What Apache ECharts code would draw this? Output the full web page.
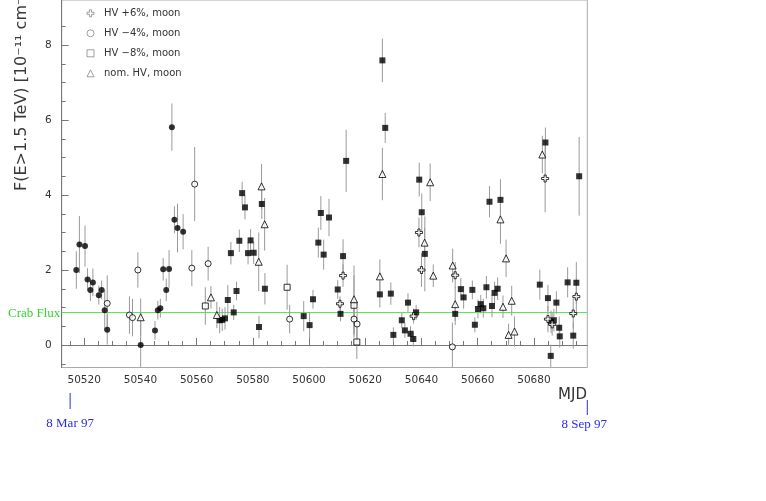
<!DOCTYPE html>
<html>
<head>
<meta charset="utf-8">
<script src="https://cdn.jsdelivr.net/npm/echarts@6/dist/echarts.min.js"></script>
<style>
  html, body { margin: 0; padding: 0; background: #fff; }
  #chart { width: 766px; height: 501px; }
</style>
</head>
<body>
<div id="chart"></div>
<script>
// filled circles
const dotMjd  = [50517.2, 50518.3, 50520.3, 50521.2, 50522.2, 50523.1, 50525.2, 50526.2, 50527.3, 50528.2,
                 50540.1, 50545.2, 50546.2, 50547.1, 50548.1, 50549.2, 50550.2, 50551.2, 50552.1, 50553.2, 50555.2];
const dotFlux = [2.00, 2.68, 2.64, 1.75, 1.47, 1.67, 1.33, 1.47, 0.93, 0.41,
                 0.00, 0.39, 0.93, 0.98, 2.02, 1.47, 2.03, 5.81, 3.34, 3.12, 3.02];
const dotErr  = [0.50, 0.76, 0.55, 0.30, 0.30, 0.37, 0.25, 0.25, 0.54, 0.40,
                 0.70, 0.25, 0.25, 0.25, 0.30, 0.30, 0.50, 0.63, 0.36, 0.65, 0.47];

// filled squares
const boxMjd  = [50568.2, 50569.1, 50570.1, 50571.1, 50572.2, 50573.2, 50574.2, 50575.2, 50576.2, 50577.2,
                 50578.3, 50579.2, 50580.3, 50582.2, 50583.2, 50584.3, 50598.1, 50600.2, 50601.4, 50603.3,
                 50604.2, 50605.2, 50607.1, 50610.2, 50611.2, 50612.1, 50613.2, 50625.2, 50626.1, 50627.1,
                 50629.1, 50630.0, 50633.0, 50634.1, 50635.2, 50636.1, 50637.1, 50638.1, 50639.2, 50640.1,
                 50641.2, 50652.0, 50654.0, 50655.0, 50658.1, 50659.0, 50660.1, 50661.1, 50662.0, 50663.1,
                 50664.2, 50665.1, 50666.0, 50667.1, 50668.1, 50682.1, 50684.1, 50685.0, 50686.0, 50686.1,
                 50687.1, 50688.0, 50689.0, 50689.2, 50692.0, 50694.0, 50695.1, 50696.1];
const boxFlux = [0.66, 0.67, 0.71, 1.20, 2.45, 0.87, 1.44, 2.78, 4.05, 3.67,
                 2.45, 2.79, 2.46, 0.48, 3.76, 1.50, 0.77, 0.53, 1.22, 2.73,
                 3.52, 2.41, 3.40, 1.48, 0.83, 2.37, 4.91, 1.35, 7.59, 5.79,
                 1.37, 0.27, 0.66, 0.39, 1.13, 0.30, 0.16, 0.87, 4.41, 3.54,
                 2.43, 0.83, 1.49, 1.27, 1.47, 0.54, 0.96, 1.09, 0.98, 1.54,
                 3.82, 1.04, 1.39, 1.50, 3.87, 1.61, 5.40, 1.25, -0.29, 0.62,
                 0.66, 1.13, 0.46, 0.23, 1.67, 0.25, 1.66, 4.50];
const boxErr  = [0.35, 0.30, 0.30, 0.40, 0.30, 0.20, 0.25, 0.30, 0.30, 0.32,
                 0.30, 0.30, 0.30, 0.30, 0.40, 0.42, 0.40, 0.35, 0.25, 0.40,
                 0.45, 0.40, 0.50, 0.25, 0.20, 0.45, 0.83, 0.35, 0.58, 0.40,
                 0.30, 0.20, 0.20, 0.20, 0.25, 0.20, 0.20, 0.20, 0.45, 0.50,
                 1.00, 0.30, 0.30, 0.30, 0.25, 0.20, 0.25, 0.25, 0.25, 0.30,
                 0.42, 0.30, 0.30, 0.30, 0.55, 0.40, 0.40, 0.35, 0.30, 0.30,
                 0.30, 0.30, 0.30, 0.30, 0.40, 0.35, 0.55, 1.05];

// HV +6%, moon (open cross)
const crossMjd  = [50611.0, 50612.1, 50637.2, 50639.1, 50640.0, 50652.0, 50684.0, 50685.0, 50686.5, 50694.0, 50695.1];
const crossFlux = [1.10, 1.85, 0.77, 3.00, 2.00, 1.86, 4.44, 0.69, 0.55, 0.84, 1.29];
const crossErr  = [0.20, 0.30, 0.20, 0.40, 0.45, 0.35, 0.90, 0.35, 0.30, 0.40, 0.50];

// HV -4%, moon (open circle)
const ringMjd  = [50528.2, 50536.1, 50537.2, 50539.1, 50558.3, 50559.3, 50564.1, 50593.1, 50616.0, 50617.1, 50651.0];
const ringFlux = [1.11, 0.80, 0.73, 2.00, 2.05, 4.29, 2.17, 0.69, 0.69, 0.56, -0.05];
const ringErr  = [0.75, 0.50, 0.50, 0.47, 0.48, 0.99, 0.45, 0.38, 0.50, 0.40, 0.65];

// HV -8%, moon (open square)
const sqMjd  = [50563.1, 50592.2, 50616.0, 50617.0];
const sqFlux = [1.04, 1.54, 1.06, 0.08];
const sqErr  = [0.50, 0.60, 0.80, 0.45];

// nom. HV, moon (open triangle)
const triMjd  = [50540.1, 50565.1, 50567.2, 50582.1, 50583.1, 50584.2, 50616.0, 50625.2, 50626.1, 50641.1,
                 50643.1, 50644.2, 50651.1, 50652.0, 50668.1, 50669.0, 50670.1, 50671.0, 50672.1, 50673.1, 50683.0];
const triFlux = [0.74, 1.27, 0.80, 2.22, 4.23, 3.22, 1.22, 1.83, 4.56, 2.73,
                 4.34, 1.85, 2.12, 1.09, 3.35, 1.02, 2.31, 0.27, 1.18, 0.36, 5.08];
const triErr  = [0.50, 0.30, 0.35, 0.78, 0.60, 0.70, 0.90, 0.45, 0.70, 0.40,
                 0.50, 0.30, 0.45, 0.45, 0.65, 0.30, 0.50, 0.30, 0.40, 0.40, 0.50];

const xMajor = [50520, 50540, 50560, 50580, 50600, 50620, 50640, 50660, 50680];
const yMajor = [0, 2, 4, 6, 8];
const crabFlux = 0.87;
const dateMarks = [{ mjd: 50515, text: '8 Mar 97' }, { mjd: 50699, text: '8 Sep 97' }];

const xMinor = [];
for (let m = 50515; m < 50699; m += 5) xMinor.push(m);
const yMinor = [];
for (let v = -0.5; v < 9; v += 0.5) yMinor.push(v);

const crossIcon = 'path://M3.5,0H6.5V3.5H10V6.5H6.5V10H3.5V6.5H0V3.5H3.5Z';

const pts = (m, f, e) => m.map((x, i) => [x, f[i], e[i]]);

function errBars(data) {
  return {
    type: 'custom', silent: true, z: 1, clip: true,
    data: data,
    encode: { x: 0, y: 1 },
    renderItem(params, api) {
      const x = api.value(0), y = api.value(1), e = api.value(2);
      const a = api.coord([x, y - e]), b = api.coord([x, y + e]);
      return {
        type: 'line',
        shape: { x1: a[0], y1: a[1], x2: b[0], y2: b[1] },
        style: { stroke: '#9a9a9a', lineWidth: 1 }
      };
    }
  };
}

function marks(name, data, symbol, size, filled) {
  return {
    type: 'scatter', name: name, data: data, z: 3,
    symbol: symbol, symbolSize: size, silent: true,
    itemStyle: filled
      ? { color: '#000', borderColor: '#000', borderWidth: 0 }
      : { color: '#fff', borderColor: '#000', borderWidth: 1 }
  };
}

const groups = [
  ['nom. HV', pts(dotMjd, dotFlux, dotErr), 'circle', 6, true],
  ['HV +0%', pts(boxMjd, boxFlux, boxErr), 'rect', 6, true],
  ['HV +6%, moon', pts(crossMjd, crossFlux, crossErr), crossIcon, 7, false],
  ['HV \u22124%, moon', pts(ringMjd, ringFlux, ringErr), 'circle', 6, false],
  ['HV \u22128%, moon', pts(sqMjd, sqFlux, sqErr), 'rect', 6, false],
  ['nom. HV, moon', pts(triMjd, triFlux, triErr), 'triangle', 7, false]
];

const series = [];
groups.forEach(g => series.push(errBars(g[1])));
groups.forEach(g => series.push(marks(g[0], g[1], g[2], g[3], g[4])));
series[series.length - 1].markLine = {
  silent: true, symbol: 'none', label: { show: false }, z: 0,
  data: [
    { yAxis: 0, lineStyle: { color: '#666', type: [3, 3], width: 1 } },
    { yAxis: crabFlux, lineStyle: { color: '#55ea55', type: 'solid', width: 1.2 } }
  ]
};

const axisGray = '#777';
const plain = v => String(v);
const chart = echarts.init(document.getElementById('chart'));
chart.setOption({
  animation: false,
  textStyle: { fontFamily: 'DejaVu Sans' },
  grid: { left: 61.7, right: 178.7, top: -20.4, bottom: 133.5, show: true, borderColor: '#aaa', borderWidth: 1 },
  legend: {
    data: [
      { name: 'HV +6%, moon', icon: crossIcon },
      { name: 'HV \u22124%, moon', icon: 'circle' },
      { name: 'HV \u22128%, moon', icon: 'rect' },
      { name: 'nom. HV, moon', icon: 'triangle' }
    ],
    orient: 'vertical', left: 81.5, top: 3.3,
    itemWidth: 7, itemHeight: 7, itemGap: 10,
    selectedMode: false,
    itemStyle: { color: '#fff', borderColor: '#888', borderWidth: 1 },
    textStyle: { fontSize: 10, color: '#333', lineHeight: 10, fontFamily: 'DejaVu Sans', padding: [0, 0, 0, 5] }
  },
  xAxis: [
    {
      type: 'value', min: 50512, max: 50699, position: 'bottom',
      axisLine: { lineStyle: { color: axisGray } },
      axisTick: { inside: true, length: 7, customValues: xMajor, lineStyle: { color: axisGray } },
      axisLabel: { customValues: xMajor, formatter: plain, color: '#333', fontSize: 10.5, margin: 7, fontFamily: 'DejaVu Sans' },
      splitLine: { show: false }
    },
    {
      type: 'value', min: 50512, max: 50699, position: 'bottom',
      axisLine: { show: false },
      axisTick: { inside: true, length: 4, customValues: xMinor, lineStyle: { color: axisGray } },
      axisLabel: { show: false },
      splitLine: { show: false }
    }
  ],
  yAxis: [
    {
      type: 'value', min: -0.6, max: 9.2, position: 'left',
      axisLine: { show: true, lineStyle: { color: axisGray } },
      axisTick: { show: true, inside: true, length: 7, customValues: yMajor, lineStyle: { color: axisGray } },
      axisLabel: { customValues: yMajor, formatter: plain, color: '#333', fontSize: 10.5, margin: 10, fontFamily: 'DejaVu Sans' },
      splitLine: { show: false }
    },
    {
      type: 'value', min: -0.6, max: 9.2, position: 'left',
      axisLine: { show: false },
      axisTick: { show: true, inside: true, length: 4, customValues: yMinor, lineStyle: { color: axisGray } },
      axisLabel: { show: false },
      splitLine: { show: false }
    }
  ],
  series: series
});

// annotations placed with the axis scales
const yCrab = chart.convertToPixel({ yAxisIndex: 0 }, crabFlux);
const xA = chart.convertToPixel({ xAxisIndex: 0 }, dateMarks[0].mjd);
const xB = chart.convertToPixel({ xAxisIndex: 0 }, dateMarks[1].mjd);
const blue = '#2b2bf2';
chart.setOption({
  graphic: [
    {
      type: 'text', x: 22, y: 191, rotation: Math.PI / 2,
      style: { text: 'F(E>1.5 TeV) [10\u207B\u00B9\u00B9 cm\u207B\u00B2 s\u207B\u00B9]', fontSize: 16,
               fontFamily: 'DejaVu Sans', fill: '#3a3a3a', align: 'left', verticalAlign: 'middle' }
    },
    {
      type: 'text', x: 8, y: yCrab + 1,
      style: { text: 'Crab Flux', fontSize: 13, fontFamily: 'Liberation Serif', fill: '#2fd62f',
               align: 'left', verticalAlign: 'middle' }
    },
    {
      type: 'text', x: 587, y: 395.5,
      style: { text: 'MJD', fontSize: 15, fontFamily: 'DejaVu Sans', fill: '#333', align: 'right', verticalAlign: 'middle' }
    },
    { type: 'line', shape: { x1: xA, y1: 393, x2: xA, y2: 409 }, style: { stroke: blue, lineWidth: 1 } },
    { type: 'line', shape: { x1: xB, y1: 400, x2: xB, y2: 415 }, style: { stroke: blue, lineWidth: 1 } },
    {
      type: 'text', x: xA, y: 424,
      style: { text: dateMarks[0].text, fontSize: 13, fontFamily: 'Liberation Serif', fill: blue,
               align: 'center', verticalAlign: 'middle' }
    },
    {
      type: 'text', x: xB - 3, y: 424.5,
      style: { text: dateMarks[1].text, fontSize: 13, fontFamily: 'Liberation Serif', fill: blue,
               align: 'center', verticalAlign: 'middle' }
    }
  ]
});
</script>
</body>
</html>
